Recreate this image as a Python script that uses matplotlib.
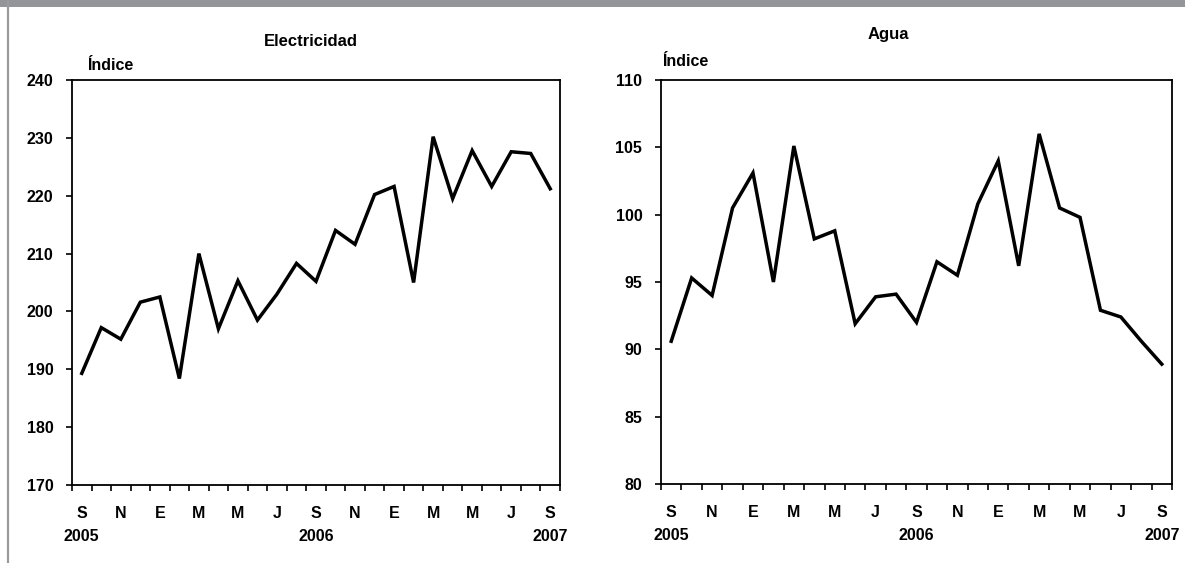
import matplotlib
matplotlib.use("Agg")
import matplotlib.pyplot as plt
from matplotlib.lines import Line2D
from matplotlib.patches import Rectangle
import matplotlib.transforms as mtransforms

months = ["S", "O", "N", "D", "E", "F", "M", "A", "M", "J", "J", "A",
          "S", "O", "N", "D", "E", "F", "M", "A", "M", "J", "J", "A", "S"]
years = {0: "2005", 12: "2006", 24: "2007"}

electricidad = [189.3, 197.2, 195.2, 201.6, 202.5, 188.4, 210.0, 197.0, 205.3,
                198.5, 203.0, 208.3, 205.2, 214.0, 211.6, 220.2, 221.6, 205.0,
                230.2, 219.5, 227.8, 221.6, 227.6, 227.3, 221.2]
agua = [90.6, 95.3, 94.0, 100.5, 103.1, 95.0, 105.1, 98.2, 98.8, 91.9, 93.9,
        94.1, 92.0, 96.5, 95.5, 100.8, 104.0, 96.2, 106.0, 100.5, 99.8, 92.9,
        92.4, 90.6, 88.9]

elec_ticks = [170, 180, 190, 200, 210, 220, 230, 240]
agua_ticks = [80, 85, 90, 95, 100, 105, 110]

FAM = ["Liberation Sans Narrow", "Liberation Sans", "DejaVu Sans"]
plt.rcParams["font.family"] = FAM
plt.rcParams["font.weight"] = "bold"

W, H = 1185, 563
fig = plt.figure(figsize=(W / 100, H / 100), dpi=100)

# decorations: top gray band and left gray line
fig.patches.append(Rectangle((0, 1 - 7 / H), 1, 7 / H, transform=fig.transFigure,
                             facecolor="#939598", edgecolor="none"))
fig.lines.append(Line2D([8 / W, 8 / W], [0, 1], transform=fig.transFigure,
                        color="#9a9b9d", linewidth=1.6))


def px_axes(x0, y0, x1, y1):
    return fig.add_axes([x0 / W, 1 - y1 / H, (x1 - x0) / W, (y1 - y0) / H])


def style(ax, data, yticks):
    n = len(data)
    x = list(range(n))
    ax.plot(x, data, color="black", linewidth=2.5, solid_joinstyle="miter")
    ax.set_xlim(-0.5, n - 0.5)
    ax.set_ylim(yticks[0], yticks[-1])
    ax.set_yticks(yticks)
    ax.set_yticklabels([str(t) for t in yticks], fontsize=11.5, fontweight="bold")
    ax.set_xticks([i - 0.5 for i in range(n + 1)])
    ax.set_xticklabels([])
    ax.set_xticks(list(range(0, n, 2)), minor=True)
    ax.set_xticklabels([months[i] for i in range(0, n, 2)], minor=True,
                       fontsize=11.5, fontweight="bold")
    ax.tick_params(axis="x", which="major", direction="out", length=4.5, width=1.2)
    ax.tick_params(axis="x", which="minor", length=0, pad=15)
    ax.tick_params(axis="y", direction="out", length=4.5, width=1.2, pad=9)
    for s in ax.spines.values():
        s.set_linewidth(1.3)
    trans = mtransforms.blended_transform_factory(ax.transData, ax.transAxes)
    off = trans + mtransforms.ScaledTranslation(0, -32 / 72, fig.dpi_scale_trans)
    for i, lab in years.items():
        ax.text(i, 0, lab, transform=off, ha="center", va="top",
                fontsize=11.5, fontweight="bold")


ax1 = px_axes(72, 80, 560, 485)
style(ax1, electricidad, elec_ticks)
ax2 = px_axes(661, 80, 1172, 484)
style(ax2, agua, agua_ticks)

fig.text(311 / W, 1 - 42 / H, "Electricidad", ha="center", va="center",
         fontsize=12, fontweight="bold")
fig.text(888 / W, 1 - 35 / H, "Agua", ha="center", va="center",
         fontsize=12, fontweight="bold")
fig.text(87 / W, 1 - 65 / H, "Índice", ha="left", va="center",
         fontsize=11.5, fontweight="bold")
fig.text(662 / W, 1 - 62 / H, "Índice", ha="left", va="center",
         fontsize=11.5, fontweight="bold")

fig.savefig("out.png", dpi=100, facecolor="white")
